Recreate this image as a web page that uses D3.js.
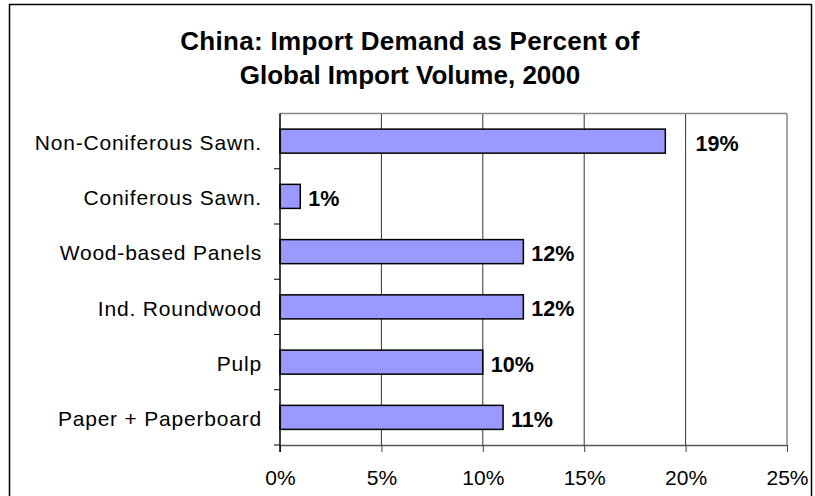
<!DOCTYPE html>
<html>
<head>
<meta charset="utf-8">
<script src="https://cdn.jsdelivr.net/npm/d3@7"></script>
<style>
  html, body { margin: 0; padding: 0; background: #fff; }
  svg { display: block; font-family: "Liberation Sans", Arial, sans-serif; }
</style>
</head>
<body>
<svg id="chart" width="815" height="496"></svg>
<script>
const titleLines = ["China: Import Demand as Percent of", "Global Import Volume, 2000"];
const categories = ["Non-Coniferous Sawn.", "Coniferous Sawn.", "Wood-based Panels", "Ind. Roundwood", "Pulp", "Paper + Paperboard"];
const values = [0.19, 0.01, 0.12, 0.12, 0.10, 0.11];
const valueLabels = ["19%", "1%", "12%", "12%", "10%", "11%"];
const xTicks = [0, 0.05, 0.10, 0.15, 0.20, 0.25];
const xTickLabels = ["0%", "5%", "10%", "15%", "20%", "25%"];

const svg = d3.select("#chart");
const plot = { left: 280, right: 787, top: 113.5, bottom: 445 };

// outer border
svg.append("rect").attr("x", 9.5).attr("y", 4.5).attr("width", 802).attr("height", 520)
  .attr("fill", "#fff").attr("stroke", "#000").attr("stroke-width", 1.5);

// title
svg.append("g").selectAll("text").data(titleLines).join("text")
  .attr("x", 410).attr("y", (d, i) => 50 + i * 34)
  .attr("text-anchor", "middle").attr("font-weight", "bold").attr("font-size", 26)
  .attr("letter-spacing", (d, i) => i === 0 ? 0.3 : 0)
  .attr("fill", "#000").text(d => d);

const x = d3.scaleLinear().domain([0, 0.25]).range([plot.left, plot.right]);
const y = d3.scaleBand().domain(categories).range([plot.top, plot.bottom]).paddingInner(0.565).paddingOuter(0.2825);

// gridlines
const grid = xTicks.slice(1, -1);
svg.append("g").selectAll("line").data(grid).join("line")
  .attr("x1", d => x(d)).attr("x2", d => x(d)).attr("y1", plot.top).attr("y2", plot.bottom)
  .attr("stroke", "#333").attr("stroke-width", 1);
// plot border top & right (gray)
svg.append("line").attr("x1", plot.left).attr("x2", plot.right).attr("y1", plot.top).attr("y2", plot.top)
  .attr("stroke", "#888").attr("stroke-width", 1.5);
svg.append("line").attr("x1", plot.right).attr("x2", plot.right).attr("y1", plot.top).attr("y2", plot.bottom)
  .attr("stroke", "#888").attr("stroke-width", 1.5);

// bars
svg.append("g").selectAll("rect").data(values).join("rect")
  .attr("x", x(0)).attr("y", (d, i) => y(categories[i]))
  .attr("width", d => x(d) - x(0)).attr("height", y.bandwidth())
  .attr("fill", "#9999FF").attr("stroke", "#000").attr("stroke-width", 1.5);

// value labels (shifted past a gridline if they would overlap it)
const labelW = 44, labelGap = 8;
function labelX(v) {
  let lx = x(v) + labelGap;
  for (const g of grid) {
    const gx = x(g);
    if (gx > lx - 2 && gx < lx + labelW) lx = gx + 10;
  }
  return lx;
}
svg.append("g").selectAll("text").data(values).join("text")
  .attr("x", d => labelX(d)).attr("y", (d, i) => y(categories[i]) + y.bandwidth() / 2)
  .attr("dy", "0.44em").attr("font-weight", "bold").attr("font-size", 21.5).attr("fill", "#000")
  .text((d, i) => valueLabels[i]);

// bottom axis
const xAxis = d3.axisBottom(x).tickValues(xTicks).tickFormat((d, i) => xTickLabels[i]).tickSize(7).tickSizeOuter(0).tickPadding(0);
const gx = svg.append("g").attr("transform", `translate(0,${plot.bottom})`).call(xAxis);
gx.select(".domain").attr("stroke", "#555").attr("stroke-width", 1.5);
gx.selectAll(".tick line").attr("stroke", "#444").attr("stroke-width", 1);
gx.selectAll(".tick text").attr("y", 40).attr("dy", 0)
  .attr("font-size", 21).attr("font-family", "Liberation Sans, Arial, sans-serif").attr("fill", "#000");

// left axis: domain + ticks at band boundaries
const boundaries = d3.range(categories.length + 1).map(i => plot.top + i * y.step());
svg.append("line").attr("x1", plot.left).attr("x2", plot.left).attr("y1", plot.top).attr("y2", plot.bottom + 7)
  .attr("stroke", "#000").attr("stroke-width", 1.5);
svg.append("g").selectAll("line").data(boundaries.slice(1)).join("line")
  .attr("x1", plot.left - 6).attr("x2", plot.left).attr("y1", d => d).attr("y2", d => d)
  .attr("stroke", "#000").attr("stroke-width", 1);
svg.append("g").selectAll("text").data(categories).join("text")
  .attr("x", 262).attr("y", d => y(d) + y.bandwidth() / 2).attr("dy", "0.42em")
  .attr("text-anchor", "end").attr("font-size", 21).attr("letter-spacing", 0.8)
  .attr("fill", "#000").text(d => d);
</script>
</body>
</html>
